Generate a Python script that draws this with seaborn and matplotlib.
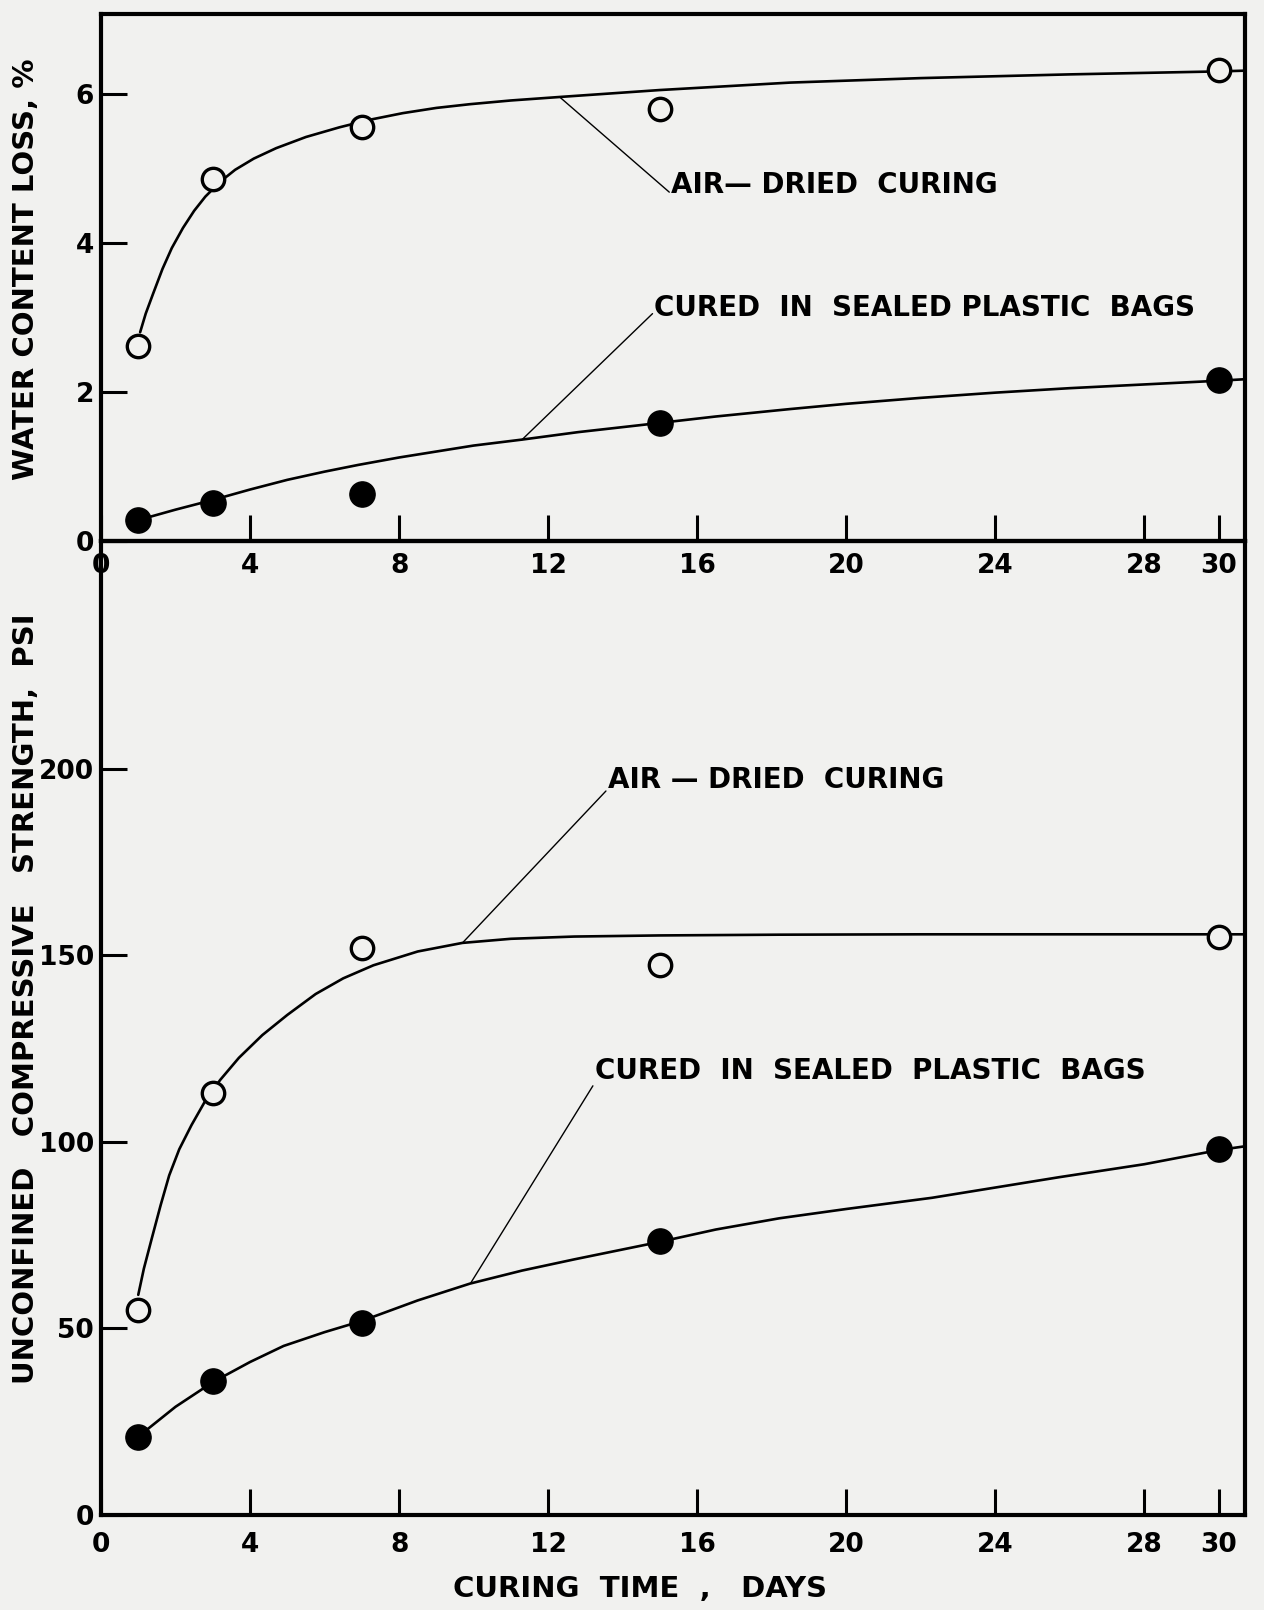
import matplotlib
matplotlib.use("Agg")
import matplotlib.pyplot as plt
import seaborn as sns

# ---------------- data ----------------
days = [1, 3, 7, 15, 30]
water_air = [2.62, 4.85, 5.55, 5.80, 6.32]
water_bag = [0.28, 0.51, 0.63, 1.58, 2.16]
strength_air = [55, 113, 152, 147.5, 155]
strength_bag = [21, 36, 51.5, 73.5, 98]

# hand-drawn fitted curves
water_air_cx = [1.05, 1.2, 1.4, 1.65, 1.9, 2.2, 2.5, 2.8, 3.2, 3.6, 4.1, 4.7, 5.5, 6.4, 7.2,
                8.1, 9.0, 9.9, 11.0, 12.4, 15, 18.5, 22, 26, 30, 30.7]
water_air_cy = [2.80, 3.05, 3.32, 3.65, 3.93, 4.20, 4.43, 4.62, 4.82, 4.98, 5.13, 5.27, 5.42, 5.55, 5.65,
                5.74, 5.81, 5.86, 5.91, 5.96, 6.05, 6.15, 6.21, 6.26, 6.30, 6.31]
water_bag_cx = [1.0, 2.0, 3.0, 4.0, 5.0, 6.0, 6.9, 8.0, 9.0, 10.0, 11.3, 12.8, 14.4, 16.5, 18.5,
                20, 22, 24, 26, 28, 30, 30.7]
water_bag_cy = [0.28, 0.42, 0.55, 0.69, 0.82, 0.93, 1.02, 1.12, 1.20, 1.28, 1.36, 1.46, 1.55, 1.67, 1.77,
                1.84, 1.92, 1.99, 2.05, 2.10, 2.15, 2.17]
str_air_cx = [1.0, 1.15, 1.36, 1.6, 1.83, 2.1, 2.43, 2.8, 3.2, 3.7, 4.33, 5.0, 5.76, 6.5, 7.31,
              8.5, 9.7, 11.0, 12.7, 15, 18.2, 22, 26, 30, 30.7]
str_air_cy = [59, 66, 74, 83, 91, 98, 104.5, 111, 116.6, 122.5, 128.6, 134, 139.6, 143.8, 147.3,
              151.0, 153.3, 154.4, 155, 155.3, 155.5, 155.6, 155.6, 155.6, 155.6]
str_bag_cx = [1.0, 1.5, 2.0, 3.0, 4.0, 4.9, 6.0, 7.0, 8.5, 9.9, 11.3, 12.7, 15.0, 16.5, 18.2,
              20, 22.3, 25.7, 28, 30, 30.7]
str_bag_cy = [21, 25, 29, 35.6, 41, 45.3, 49, 52, 57.5, 62, 65.5, 68.5, 73.2, 76.5, 79.5,
              82, 85, 90.5, 94, 97.8, 98.8]

x_ticks = [0, 4, 8, 12, 16, 20, 24, 28, 30]
water_ticks = [0, 2, 4, 6]
strength_ticks = [0, 50, 100, 150, 200]

labels_top = ["AIR\u2014 DRIED  CURING", "CURED  IN  SEALED PLASTIC  BAGS"]
labels_bot = ["AIR \u2014 DRIED  CURING", "CURED  IN  SEALED  PLASTIC  BAGS"]

# ---------------- style ----------------
sns.set_theme(style="white")
paper = "#f1f1ef"
plt.rcParams["font.family"] = ["DejaVu Sans"]
plt.rcParams["font.weight"] = "bold"
plt.rcParams["text.color"] = "black"
plt.rcParams["axes.labelcolor"] = "black"
fs = 19
fl = 21
fa = 20

fig = plt.figure(figsize=(12.64, 16.10), dpi=100, facecolor=paper)
ax1 = fig.add_axes([0.0799, 0.6640, 0.9051, 0.3273])
ax2 = fig.add_axes([0.0799, 0.0590, 0.9051, 0.6050])
for ax in (ax1, ax2):
    ax.set_facecolor("none")
    for s in ax.spines.values():
        s.set_linewidth(3.0)
        s.set_color("black")
    ax.set_xlim(0, 30.7)
    ax.tick_params(axis="both", direction="in", length=19, width=2.2,
                   colors="black", labelsize=fs, pad=9,
                   bottom=True, left=True, top=False, right=False)
    ax.tick_params(axis="y", pad=5)

line_kw = dict(color="black", linewidth=1.9, sort=False, estimator=None, legend=False)
open_kw = dict(s=260, facecolor=paper, edgecolor="black", linewidth=2.4, zorder=5, legend=False)
fill_kw = dict(s=330, color="black", edgecolor="black", linewidth=1, zorder=5, legend=False)
lead = dict(arrowstyle="-", color="black", lw=1.0, shrinkA=0, shrinkB=0)

# ---------------- top panel ----------------
sns.lineplot(x=water_air_cx, y=water_air_cy, ax=ax1, **line_kw)
sns.lineplot(x=water_bag_cx, y=water_bag_cy, ax=ax1, **line_kw)
sns.scatterplot(x=days, y=water_air, ax=ax1, **open_kw)
sns.scatterplot(x=days, y=water_bag, ax=ax1, **fill_kw)
ax1.set_ylim(0, 7.07)
ax1.set_yticks(water_ticks)
ax1.set_xticks(x_ticks)
ax1.set_xticklabels([str(t) for t in x_ticks], fontweight="bold")
ax1.set_yticklabels([str(t) for t in water_ticks], fontweight="bold")
ax1.set_ylabel("WATER CONTENT LOSS, %", fontsize=fl, fontweight="bold")
ax1.yaxis.set_label_coords(-0.053, 0.515)
ax1.set_xlabel("")

ax1.annotate("", xy=(12.3, 5.96), xytext=(15.25, 4.68), arrowprops=lead)
ax1.text(15.3, 4.77, labels_top[0], fontsize=fa, fontweight="bold", ha="left", va="center")
ax1.annotate("", xy=(11.3, 1.36), xytext=(14.8, 3.05), arrowprops=lead)
ax1.text(14.85, 3.13, labels_top[1], fontsize=fa, fontweight="bold", ha="left", va="center")

# ---------------- bottom panel ----------------
sns.lineplot(x=str_air_cx, y=str_air_cy, ax=ax2, **line_kw)
sns.lineplot(x=str_bag_cx, y=str_bag_cy, ax=ax2, **line_kw)
sns.scatterplot(x=days, y=strength_air, ax=ax2, **open_kw)
sns.scatterplot(x=days, y=strength_bag, ax=ax2, **fill_kw)
ax2.set_ylim(0, 261)
ax2.set_yticks(strength_ticks)
ax2.set_xticks(x_ticks)
ax2.set_xticklabels([str(t) for t in x_ticks], fontweight="bold")
ax2.set_yticklabels([str(t) for t in strength_ticks], fontweight="bold")
ax2.tick_params(axis="x", pad=12)
ax2.set_ylabel("UNCONFINED   COMPRESSIVE   STRENGTH,  PSI", fontsize=fl, fontweight="bold")
ax2.yaxis.set_label_coords(-0.053, 0.53)
ax2.set_xlabel("CURING  TIME  ,   DAYS", fontsize=fl, fontweight="bold")
ax2.xaxis.set_label_coords(0.471, -0.062)

ax2.annotate("", xy=(9.7, 153.3), xytext=(13.55, 194), arrowprops=lead)
ax2.text(13.6, 197, labels_bot[0], fontsize=fa, fontweight="bold", ha="left", va="center")
ax2.annotate("", xy=(9.93, 62.3), xytext=(13.2, 115), arrowprops=lead)
ax2.text(13.25, 119, labels_bot[1], fontsize=fa, fontweight="bold", ha="left", va="center")

fig.savefig("out.png", dpi=100, facecolor=paper)
